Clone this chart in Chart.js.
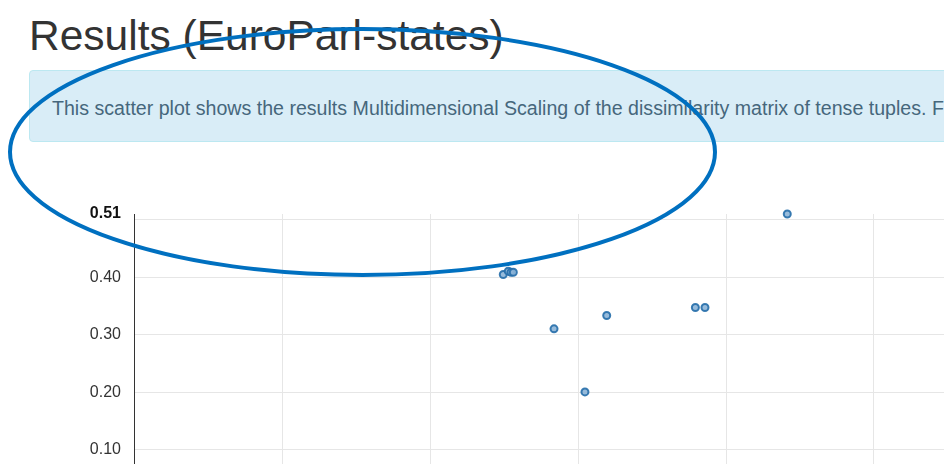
<!DOCTYPE html>
<html>
<head>
<meta charset="utf-8">
<script src="https://cdn.jsdelivr.net/npm/chart.js@4/dist/chart.umd.min.js"></script>
<style>
  html, body { margin: 0; padding: 0; background: #fff; }
  body { width: 944px; height: 464px; overflow: hidden; position: relative; font-family: "Liberation Sans", Arial, Helvetica, sans-serif; }
  h1 { position: absolute; left: 29px; top: 15px; margin: 0; font-size: 42.5px; line-height: 42px; font-weight: normal; color: #333; white-space: nowrap; }
  .info { position: absolute; left: 29px; top: 70px; width: 1000px; height: 70px; background: #d9edf7; border: 1px solid #bce8f1; border-radius: 4px; }
  .info p { position: absolute; left: 22px; top: 28px; margin: 0; font-size: 19.6px; line-height: 19px; color: #46677c; white-space: nowrap; }
  #chart { position: absolute; left: 0; top: 190px; }
  svg { position: absolute; left: 0; top: 0; pointer-events: none; }
</style>
</head>
<body>
<h1>Results (EuroParl-states)</h1>
<div class="info"><p>This scatter plot shows the results Multidimensional Scaling of the dissimilarity matrix of tense tuples. F</p></div>
<canvas id="chart" width="1022" height="357"></canvas>
<svg width="944" height="464"><ellipse cx="362.5" cy="152" rx="352.5" ry="123" fill="none" stroke="#0070C0" stroke-width="4"/></svg>
<script>
// Data
const xValues = [-0.1505, -0.1471, -0.1453, -0.1437, -0.1162, -0.0806, -0.0953, -0.0207, -0.0142, 0.0414];
const yValues = [0.4047, 0.4105, 0.4087, 0.4087, 0.3101, 0.3333, 0.2003, 0.3472, 0.3472, 0.51];
const yTickValues = [0.1, 0.2, 0.3, 0.4, 0.5, 0.51];
const yTickLabels = ['0.10', '0.20', '0.30', '0.40', '', '0.51'];
const xGridValues = [-0.3, -0.2, -0.1, 0, 0.1, 0.2];
const yMax = 0.51;

const points = xValues.map((x, i) => ({ x: x, y: yValues[i] }));

new Chart(document.getElementById('chart'), {
  type: 'scatter',
  data: {
    datasets: [{
      data: points,
      pointRadius: 3.5,
      pointHoverRadius: 3.5,
      borderWidth: 2,
      borderColor: 'rgba(38,110,170,0.9)',
      backgroundColor: 'rgba(140,180,215,0.9)',
      clip: false
    }]
  },
  options: {
    responsive: false,
    animation: false,
    events: [],
    layout: { autoPadding: false, padding: { left: 0, top: 24, right: 0, bottom: 0 } },
    plugins: { legend: { display: false }, tooltip: { enabled: false } },
    scales: {
      x: {
        type: 'linear',
        min: -0.4,
        max: 0.2,
        afterBuildTicks: s => { s.ticks = xGridValues.map(v => ({ value: v })); },
        afterFit: s => { s.height = 40; },
        grid: { color: '#e6e6e6', lineWidth: 1, drawTicks: false },
        border: { display: false },
        ticks: { display: false }
      },
      y: {
        type: 'linear',
        min: 0,
        max: yMax,
        afterBuildTicks: s => { s.ticks = yTickValues.map(v => ({ value: v })); },
        afterFit: s => { s.width = 134; },
        grid: {
          color: ctx => (ctx.tick && ctx.tick.value === yMax) ? 'rgba(0,0,0,0)' : '#e6e6e6',
          lineWidth: 1,
          drawTicks: false
        },
        border: { display: true, color: '#333', width: 1 },
        ticks: {
          padding: 13,
          autoSkip: false,
          callback: (v, i) => yTickLabels[i],
          color: ctx => (ctx.tick && ctx.tick.value === yMax) ? '#111' : '#333',
          font: ctx => (ctx.tick && ctx.tick.value === yMax)
            ? { family: '"Liberation Sans", Arial, sans-serif', size: 16, weight: 'bold' }
            : { family: '"Liberation Sans", Arial, sans-serif', size: 16 }
        }
      }
    }
  }
});
</script>
</body>
</html>
